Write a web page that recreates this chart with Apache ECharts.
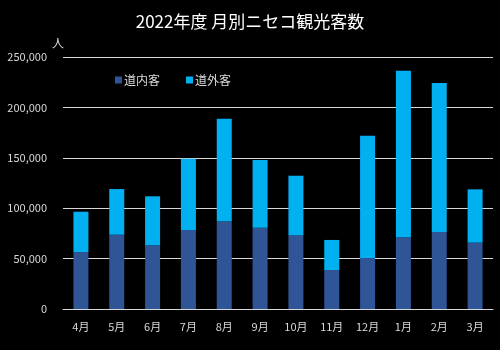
<!DOCTYPE html>
<html><head><meta charset="utf-8">
<script src="https://cdn.jsdelivr.net/npm/echarts@6/dist/echarts.min.js"></script>
<style>html,body{margin:0;padding:0;background:#000;}#c{width:500px;height:350px;}</style>
</head><body><div id="c"></div>
<script>
const categories = ['4月','5月','6月','7月','8月','9月','10月','11月','12月','1月','2月','3月'];
const totals = [96500,119000,111800,149000,188800,147800,132200,68500,171900,236400,224200,118700];
const inner = [56500,73700,63200,78400,87000,80700,73100,38700,50600,71100,76400,65800];
const outer = totals.map((t,i)=>t-inner[i]);
const yTicks = [0,50000,100000,150000,200000,250000];
const font = '"Noto Sans CJK JP", "Noto Sans", sans-serif';
const chart = echarts.init(document.getElementById('c'));
chart.setOption({
  backgroundColor:'#000',
  animation:false,
  title:{text:'2022年度 月別ニセコ観光客数',left:'center',top:8,textStyle:{color:'#fff',fontSize:17,fontWeight:'normal',fontFamily:font}},
  legend:{left:110,top:69,itemWidth:7,itemHeight:7,itemGap:26,icon:'rect',textStyle:{color:'#d9d9d9',fontSize:12,fontFamily:font,padding:[0,0,0,-3]},data:['道内客','道外客']},
  grid:{left:63,right:7,top:57,bottom:41},
  xAxis:{type:'category',data:categories,axisLine:{lineStyle:{color:'#d9d9d9'}},axisTick:{show:false},
    axisLabel:{color:'#d9d9d9',fontSize:11,fontFamily:font,margin:12}},
  yAxis:{type:'value',min:0,max:250000,interval:50000,name:'人',nameLocation:'end',nameGap:6,
    nameTextStyle:{color:'#d9d9d9',fontSize:12,fontFamily:font,align:'center',padding:[0,0,2,-10]},
    axisLine:{show:false},axisTick:{show:false},
    splitLine:{lineStyle:{color:'#d9d9d9',width:1}},
    axisLabel:{color:'#d9d9d9',fontSize:11,fontFamily:font,margin:16,
      formatter:v=>yTicks.includes(v)?v.toLocaleString('en-US'):''}},
  series:[
    {name:'道内客',type:'bar',stack:'a',data:inner,barWidth:15,itemStyle:{color:'#2F5597'}},
    {name:'道外客',type:'bar',stack:'a',data:outer,barWidth:15,itemStyle:{color:'#00B0F0'}}
  ]
});
</script></body></html>
